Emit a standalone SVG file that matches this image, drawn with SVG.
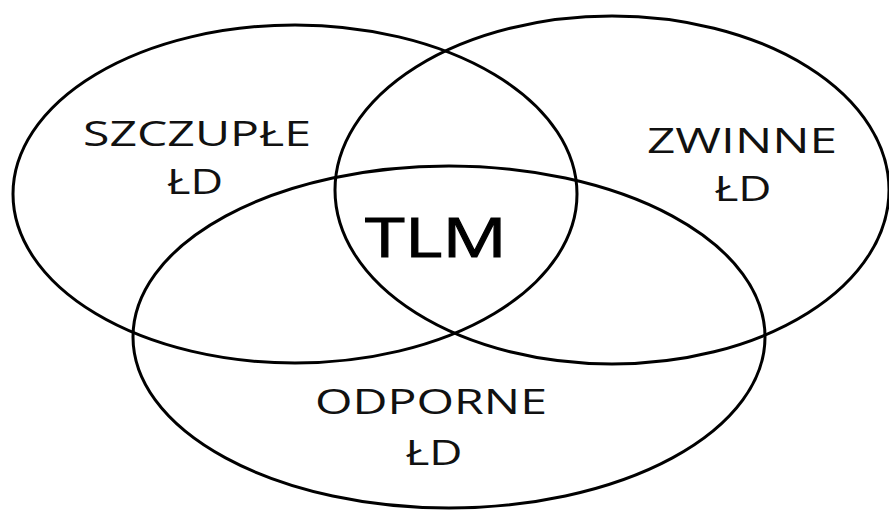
<svg xmlns="http://www.w3.org/2000/svg" width="889" height="510" viewBox="0 0 889 510">
<style>
.c{fill:none;stroke:#000;stroke-width:3}
.t{font-family:"Open Sans","Liberation Sans",sans-serif;font-size:35px;fill:#111;text-anchor:middle}
.b{font-family:"Open Sans","Liberation Sans",sans-serif;font-size:55px;fill:#000;stroke:#000;stroke-width:1;text-anchor:middle}
</style>
<rect width="889" height="510" fill="#fff"/>
<g id="szczuple">
<ellipse class="c" cx="295" cy="194" rx="282" ry="169"/>
<text class="t" x="197" y="146" textLength="228" lengthAdjust="spacingAndGlyphs">SZCZUPŁE</text>
<text class="t" x="195" y="194" textLength="56" lengthAdjust="spacingAndGlyphs">ŁD</text>
</g>
<g id="zwinne">
<ellipse class="c" cx="612" cy="190" rx="277" ry="174"/>
<text class="t" x="742" y="153" textLength="190" lengthAdjust="spacingAndGlyphs">ZWINNE</text>
<text class="t" x="743" y="201" textLength="57" lengthAdjust="spacingAndGlyphs">ŁD</text>
</g>
<g id="odporne">
<ellipse class="c" cx="449" cy="337" rx="316" ry="171"/>
<text class="t" x="431" y="414" textLength="232" lengthAdjust="spacingAndGlyphs">ODPORNE</text>
<text class="t" x="434" y="465" textLength="57" lengthAdjust="spacingAndGlyphs">ŁD</text>
</g>
<g id="tlm">
<text class="b" x="436" y="257" textLength="142" lengthAdjust="spacingAndGlyphs">TLM</text>
</g>
</svg>
